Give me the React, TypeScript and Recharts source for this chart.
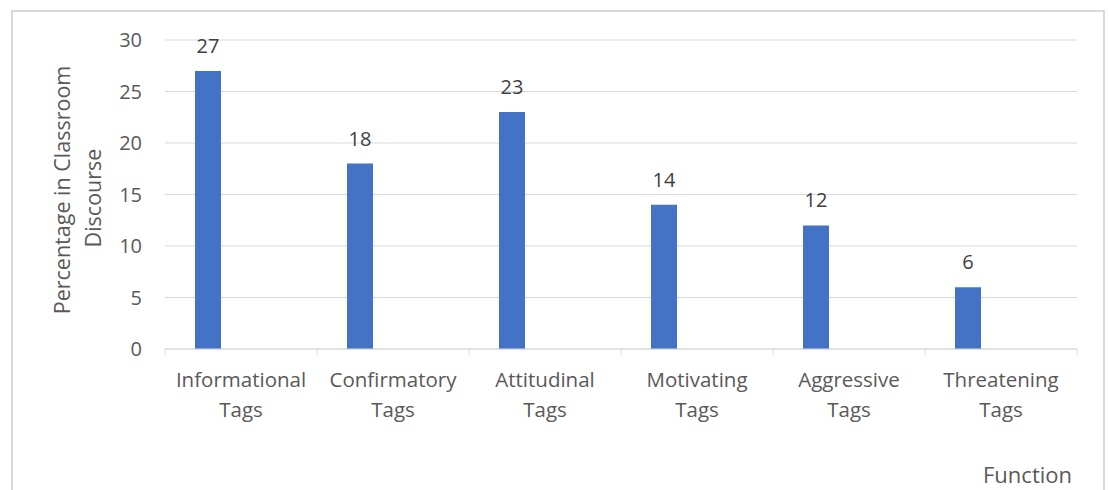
import { Bar, BarChart, CartesianGrid, LabelList, XAxis, YAxis } from "recharts";

const categories = [
  "Informational Tags",
  "Confirmatory Tags",
  "Attitudinal Tags",
  "Motivating Tags",
  "Aggressive Tags",
  "Threatening Tags",
];
const percentages = [27, 18, 23, 14, 12, 6];
const yTicks = [0, 5, 10, 15, 20, 25, 30];

const data = categories.map((name, i) => ({ name, value: percentages[i], empty: 0 }));

const FONT = "'Open Sans', sans-serif";
const TEXT = "#595959";
const GRID = "#d9d9d9";

function CategoryTick(props: any) {
  const { x, y, payload, index, visibleTicksCount } = props;
  const half = payload?.offset || 76;
  const words = String(payload.value).split(" ");
  const isLast = index === visibleTicksCount - 1;
  return (
    <g>
      <line x1={x - half} y1={y - 8} x2={x - half} y2={y - 2} stroke={GRID} />
      {isLast && <line x1={x + half} y1={y - 8} x2={x + half} y2={y - 2} stroke={GRID} />}
      {words.map((w, i) => (
        <text key={i} x={x} y={y + 30 + i * 30} textAnchor="middle" fill={TEXT} fontSize={20.5} fontFamily={FONT}>
          {w}
        </text>
      ))}
    </g>
  );
}

function YTitle() {
  return (
    <g fontFamily={FONT} fontSize={21.5} fill={TEXT}>
      <text transform="translate(70, 190) rotate(-90)" textAnchor="middle">Percentage in Classroom</text>
      <text transform="translate(101, 198) rotate(-90)" textAnchor="middle">Discourse</text>
    </g>
  );
}

function XTitle() {
  return (
    <text x={1072} y={483} textAnchor="end" fontFamily={FONT} fontSize={22} fill={TEXT}>
      Function
    </text>
  );
}

export default function App() {
  return (
    <div style={{ position: "absolute", left: 0, top: 0, width: 1109, height: 490, background: "#fff", overflow: "hidden" }}>
      <div
        style={{
          position: "absolute",
          left: 11,
          top: 10,
          width: 1094,
          height: 520,
          border: "2px solid #d9d9d9",
          boxSizing: "border-box",
        }}
      />
      <div style={{ position: "absolute", left: 0, top: 0 }}>
        <BarChart
          width={1109}
          height={490}
          data={data}
          margin={{ top: 40, right: 32, bottom: 41, left: 105 }}
          barGap={40}
        >
          <CartesianGrid vertical={false} stroke={GRID} />
          <XAxis
            dataKey="name"
            height={100}
            interval={0}
            axisLine={{ stroke: GRID }}
            tickLine={false}
            tick={<CategoryTick />}
            label={<XTitle />}
          />
          <YAxis
            width={60}
            domain={[0, 30]}
            ticks={yTicks}
            axisLine={false}
            tickLine={false}
            tickSize={0}
            tickMargin={23}
            tick={{ fill: TEXT, fontSize: 20, fontFamily: FONT }}
            label={<YTitle />}
          />
          <Bar dataKey="value" fill="#4472C4" barSize={26} isAnimationActive={false}>
            <LabelList dataKey="value" position="top" offset={18} fill="#404040" fontSize={20} fontFamily={FONT} />
          </Bar>
          <Bar dataKey="empty" fill="transparent" barSize={26} isAnimationActive={false} />
        </BarChart>
      </div>
    </div>
  );
}
